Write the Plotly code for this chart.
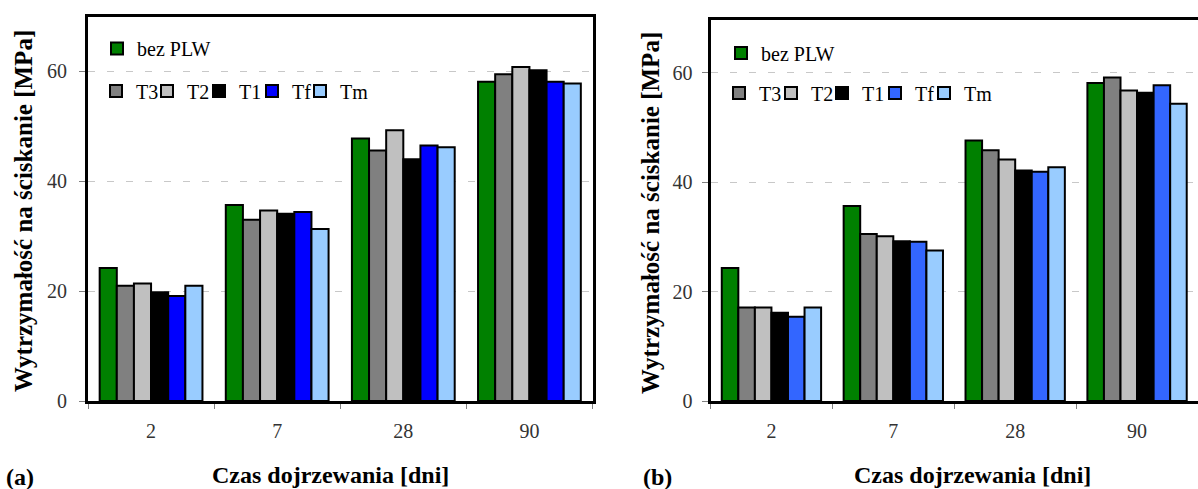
import plotly.graph_objects as go

# ---------------- data ----------------
days = ["2", "7", "28", "90"]
series_names = ["bez PLW", "T3", "T2", "T1", "Tf", "Tm"]

a_bez = [24.2, 35.7, 47.8, 58.1]
a_T3 = [21.0, 33.0, 45.6, 59.5]
a_T2 = [21.4, 34.7, 49.3, 60.8]
a_T1 = [19.8, 34.1, 44.0, 60.2]
a_Tf = [19.1, 34.4, 46.5, 58.1]
a_Tm = [21.0, 31.3, 46.2, 57.8]

b_bez = [24.3, 35.6, 47.6, 58.1]
b_T3 = [17.1, 30.5, 45.8, 59.1]
b_T2 = [17.1, 30.1, 44.1, 56.7]
b_T1 = [16.1, 29.2, 42.1, 56.3]
b_Tf = [15.4, 29.1, 41.9, 57.7]
b_Tm = [17.1, 27.5, 42.7, 54.3]

y_ticks = [0, 20, 40, 60]

colors_a = ["#008000", "#808080", "#C0C0C0", "#000000", "#0000FF", "#99CCFF"]
colors_b = ["#008000", "#808080", "#C0C0C0", "#000000", "#3366FF", "#99CCFF"]

x_title = "Czas dojrzewania [dni]"
y_title = "Wytrzymałość na ściskanie [MPa]"

# ---------------- layout helpers ----------------
W, H = 1198, 489
SERIF = "Liberation Serif, Times New Roman, Times, Tinos, DejaVu Serif, serif"


def px(x):
    return x / W


def py(y):
    return 1 - y / H


fig = go.Figure()

panels = [
    dict(vals=[a_bez, a_T3, a_T2, a_T1, a_Tf, a_Tm], colors=colors_a, xa="x", ya="y",
         leg_text_x=[133, 132, 183, 235, 288, 336], leg_rows=(48.5, 91)),
    dict(vals=[b_bez, b_T3, b_T2, b_T1, b_Tf, b_Tm], colors=colors_b, xa="x2", ya="y2",
         leg_text_x=[757, 755, 807, 858, 911, 960], leg_rows=(53, 93)),
]

legend_layouts = {}
k = 0
for p in panels:
    for i, (name, vals, col) in enumerate(zip(series_names, p["vals"], p["colors"])):
        leg_id = "legend" if k == 0 else f"legend{k + 1}"
        fig.add_trace(go.Bar(
            x=days, y=vals, name=name, xaxis=p["xa"], yaxis=p["ya"],
            marker=dict(color=col, line=dict(color="#000000", width=2)),
            legend=leg_id, showlegend=True,
        ))
        yc = p["leg_rows"][0] if i == 0 else p["leg_rows"][1]
        legend_layouts[leg_id] = dict(
            x=px(p["leg_text_x"][i] - 36), y=py(yc), xanchor="left", yanchor="middle",
            xref="paper", yref="paper", bgcolor="rgba(0,0,0,0)", borderwidth=0,
            font=dict(family=SERIF, size=20, color="#000000"), itemwidth=30,
            orientation="h",
        )
        k += 1

common_x = dict(
    type="category", showline=True, linewidth=3, linecolor="#000000",
    ticks="outside", tickson="boundaries", ticklen=5, tickcolor="#808080", tickwidth=1,
    tickfont=dict(family=SERIF, size=20, color="#333333"), showgrid=False,
    ticklabelstandoff=10, fixedrange=True, automargin=False,
)
common_y = dict(
    tickvals=y_ticks, showline=True, linewidth=3, linecolor="#000000",
    ticks="outside", ticklen=6, tickcolor="#808080", tickwidth=1,
    tickfont=dict(family=SERIF, size=20, color="#333333"),
    showgrid=True, gridcolor="#C8C8C8", gridwidth=1, griddash="7px,12px",
    zeroline=False, fixedrange=True, automargin=False,
)

fig.update_layout(
    width=W, height=H, margin=dict(l=0, r=0, t=0, b=0, autoexpand=False),
    font=dict(family=SERIF),
    paper_bgcolor="white", plot_bgcolor="white",
    barmode="group", bargap=0.185, bargroupgap=0,
    xaxis=dict(domain=[px(88), px(592.5)], anchor="y", mirror=True, **common_x),
    yaxis=dict(domain=[py(401), py(16.5)], anchor="x", range=[0, 70], mirror=True,
               ticklabelstandoff=8, **common_y),
    xaxis2=dict(domain=[px(710.5), 1.0], anchor="y2", mirror=True, **common_x),
    yaxis2=dict(domain=[py(401), py(20)], anchor="x2", range=[0, 69.6], mirror=False,
                ticklabelstandoff=5, **common_y),
    showlegend=True,
    **legend_layouts,
)

x_title_font = dict(family=SERIF, size=24, color="#000000")
y_title_font = dict(family=SERIF, size=25, color="#000000")
annotations = [
    dict(text=f"<b>{x_title}</b>", x=px(330), y=py(475), font=x_title_font),
    dict(text=f"<b>{x_title}</b>", x=px(972), y=py(475), font=x_title_font),
    dict(text=f"<b>{y_title}</b>", x=px(23), y=py(211), textangle=-90, font=y_title_font),
    dict(text=f"<b>{y_title}</b>", x=px(651), y=py(213), textangle=-90, font=y_title_font),
    dict(text="<b>(a)</b>", x=px(20), y=py(477), font=x_title_font),
    dict(text="<b>(b)</b>", x=px(657), y=py(477), font=x_title_font),
]
for a in annotations:
    fig.add_annotation(xref="paper", yref="paper", showarrow=False,
                       xanchor="center", yanchor="middle", **a)

fig.write_html("out.html")
